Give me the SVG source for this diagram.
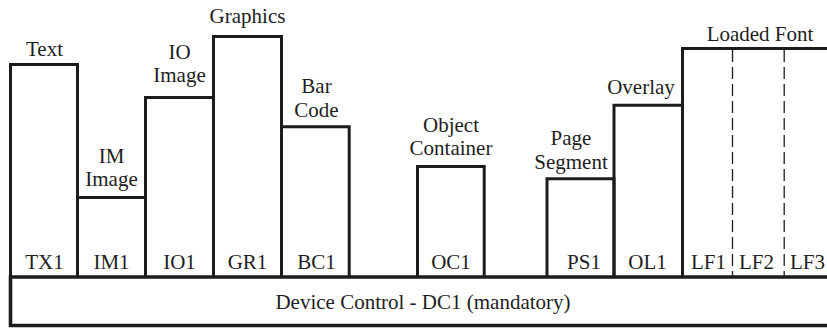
<svg xmlns="http://www.w3.org/2000/svg" width="827" height="328" viewBox="0 0 827 328">
  <style>
    .box { fill: none; stroke: #1c1c1c; stroke-width: 3; stroke-linejoin: miter; }
    .base { fill: none; stroke: #1c1c1c; stroke-width: 3.6; }
    .div { stroke: #1c1c1c; stroke-width: 1.3; stroke-dasharray: 12 5; }
    text { font-family: "Liberation Serif", "Times New Roman", serif; font-size: 21px; fill: #1e1e1e; text-anchor: middle; }
  </style>
  <rect width="827" height="328" fill="#ffffff"/>

  <!-- object areas, drawn as open-bottomed boxes standing on the device control bar -->
  <g id="TX1">
    <path class="box" d="M10.5,277 V64.5 H77.5 V277"/>
    <text x="44.5" y="55.5">Text</text>
    <text x="44.5" y="268.5">TX1</text>
  </g>
  <g id="IM1">
    <path class="box" d="M77.5,277 V197.5 H145.5 V277"/>
    <text x="111.5" y="162.5">IM</text>
    <text x="111.5" y="186">Image</text>
    <text x="111.5" y="268.5">IM1</text>
  </g>
  <g id="IO1">
    <path class="box" d="M145.5,277 V97.5 H213.5 V277"/>
    <text x="179.5" y="58.5">IO</text>
    <text x="179.5" y="82">Image</text>
    <text x="179.5" y="268.5">IO1</text>
  </g>
  <g id="GR1">
    <path class="box" d="M213.5,277 V36.5 H281.5 V277"/>
    <text x="247.5" y="23">Graphics</text>
    <text x="247.5" y="268.5">GR1</text>
  </g>
  <g id="BC1">
    <path class="box" d="M281.5,277 V126.8 H349.2 V277"/>
    <text x="316.5" y="93">Bar</text>
    <text x="316.5" y="116.5">Code</text>
    <text x="316.5" y="268.5">BC1</text>
  </g>
  <g id="OC1">
    <path class="box" d="M417.5,277 V166.5 H484.2 V277"/>
    <text x="451" y="131.5">Object</text>
    <text x="451" y="155">Container</text>
    <text x="451" y="268.5">OC1</text>
  </g>
  <g id="PS1">
    <path class="box" d="M547,277 V178.8 H614 V277"/>
    <text x="571" y="145">Page</text>
    <text x="571" y="168.5">Segment</text>
    <text x="584" y="268.5">PS1</text>
  </g>
  <g id="OL1">
    <path class="box" d="M614,277 V105.3 H682.5 V277"/>
    <text x="641" y="94">Overlay</text>
    <text x="647.5" y="268.5">OL1</text>
  </g>
  <g id="LF">
    <path class="box" d="M682.5,277 V48.5 H830"/>
    <text x="760" y="40.5">Loaded Font</text>
    <text x="708.5" y="268.5">LF1</text>
    <text x="756.5" y="268.5">LF2</text>
    <text x="807.5" y="268.5">LF3</text>
  </g>

  <!-- dashed dividers between the loaded fonts -->
  <g id="connectors">
    <line class="div" x1="732.5" y1="50" x2="732.5" y2="276"/>
    <line class="div" x1="784.2" y1="50" x2="784.2" y2="276"/>
  </g>

  <g id="DC1">
    <path class="base" d="M830,277 H10.5 V325.5 H830"/>
    <text x="423" y="308.5">Device Control - DC1 (mandatory)</text>
  </g>
</svg>
